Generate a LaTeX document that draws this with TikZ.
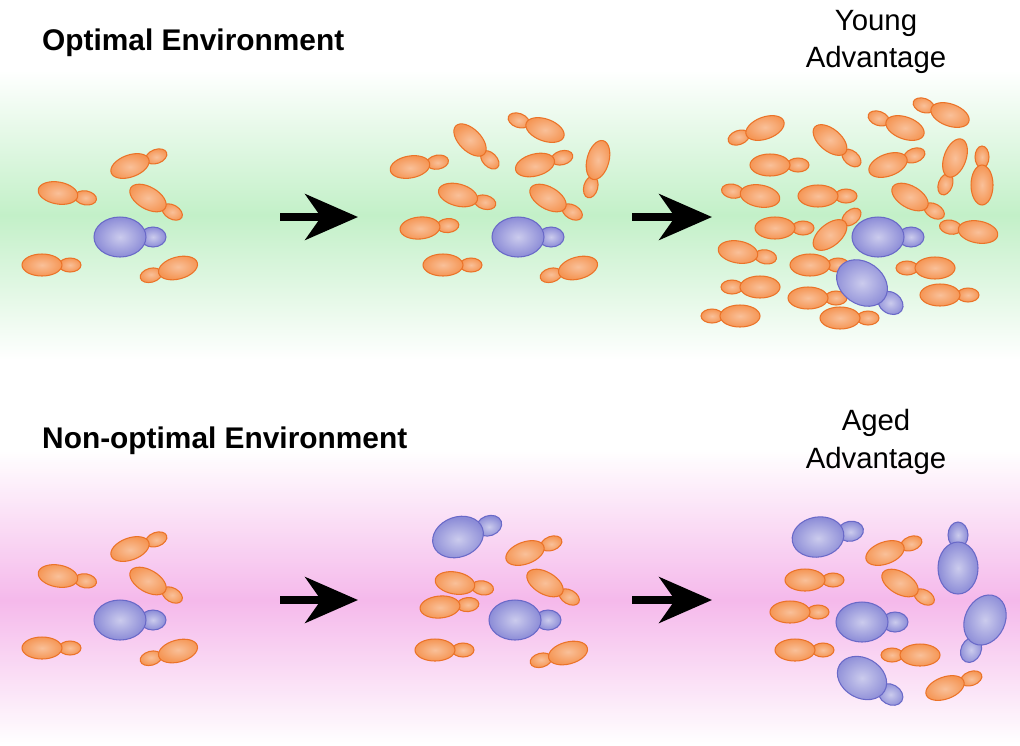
\documentclass[tikz,border=0pt]{standalone}
\usepackage{fontspec}
\setmainfont{Liberation Sans}
\usetikzlibrary{arrows.meta}
\definecolor{orcell}{RGB}{245,150,85}
\definecolor{orline}{RGB}{235,115,40}
\definecolor{blcell}{RGB}{140,140,215}
\definecolor{blline}{RGB}{105,105,200}
\definecolor{bandgreen}{RGB}{195,240,200}
\definecolor{bandpink}{RGB}{245,185,235}
% yeast cells: x, y, angle of the bud
\newcommand{\ocell}[3]{%
  \begin{scope}[shift={(#1,#2)}, rotate=-#3]
    \shade[inner color=orcell!60!white, outer color=orcell, draw=orline, line width=0.6pt] (28,0) ellipse [x radius=11, y radius=7];
    \shade[inner color=orcell!60!white, outer color=orcell, draw=orline, line width=0.6pt] (0,0) ellipse [x radius=20, y radius=11];
  \end{scope}}
\newcommand{\bcell}[4][1]{%
  \begin{scope}[shift={(#2,#3)}, rotate=-#4, scale=#1]
    \shade[inner color=blcell!45!white, outer color=blcell, draw=blline, line width=0.6pt] (33,0) ellipse [x radius=13, y radius=10];
    \shade[inner color=blcell!45!white, outer color=blcell, draw=blline, line width=0.6pt] (0,0) ellipse [x radius=26, y radius=20];
  \end{scope}}
\begin{document}
\begin{tikzpicture}[x=0.02cm, y=-0.02cm,
    bigarrow/.style={line width=4.5pt, -{Stealth[length=30pt, width=26pt, inset=9pt]}},
    titletext/.style={anchor=west, font=\fontsize{17}{20}\selectfont\bfseries},
    sidetext/.style={align=center, font=\fontsize{16.7}{21.5}\selectfont}]
\useasboundingbox (0,0) rectangle (1020,745);
% backgrounds
\shade[top color=white, bottom color=bandgreen] (0,70) rectangle (1020,215);
\shade[top color=bandgreen, bottom color=white] (0,215) rectangle (1020,360);
\shade[top color=white, bottom color=bandpink] (0,450) rectangle (1020,600);
\shade[top color=bandpink, bottom color=white] (0,600) rectangle (1020,745);
% labels
\node[titletext] (opt) at (36,43) {Optimal Environment};
\node[titletext] (nonopt) at (36,441) {Non-optimal Environment};
\node[sidetext] (young) at (876,42) {Young\\Advantage};
\node[sidetext] (aged) at (876,442) {Aged\\Advantage};
% arrows
\draw[bigarrow] (280,217) -- (358,217);
\draw[bigarrow] (632,217) -- (712,217);
\draw[bigarrow] (280,600) -- (358,600);
\draw[bigarrow] (632,600) -- (712,600);
% top: first group
\ocell{130}{166}{-20} \ocell{58}{193}{10} \ocell{148}{198}{30}
\ocell{42}{265}{0} \ocell{178}{268}{165} \bcell{120}{237}{0}
% top: second group
\ocell{470}{140}{45} \ocell{545}{130}{200} \ocell{410}{167}{-10}
\ocell{535}{165}{-15} \ocell{598}{160}{105} \ocell{458}{195}{15}
\ocell{548}{198}{30} \ocell{420}{228}{-5} \ocell{443}{265}{0}
\ocell{578}{268}{165} \bcell{518}{237}{0}
% top: third group
\ocell{765}{128}{160} \ocell{830}{140}{40} \ocell{905}{128}{200}
\ocell{950}{115}{200} \ocell{770}{165}{0} \ocell{888}{165}{-20}
\ocell{955}{158}{110} \ocell{982}{185}{-90} \ocell{760}{196}{190}
\ocell{818}{196}{0} \ocell{910}{197}{30} \ocell{775}{228}{0}
\ocell{830}{235}{-40} \ocell{978}{232}{190} \ocell{738}{252}{10}
\ocell{810}{265}{0} \ocell{935}{268}{180} \ocell{760}{287}{180}
\ocell{808}{298}{0} \ocell{940}{295}{0} \ocell{740}{316}{180}
\ocell{840}{318}{0}
\bcell{878}{237}{0} \bcell[1.05]{862}{283}{35}
% bottom: first group
\ocell{130}{549}{-20} \ocell{58}{576}{10} \ocell{148}{581}{30}
\ocell{42}{648}{0} \ocell{178}{651}{165} \bcell{120}{620}{0}
% bottom: second group
\bcell{458}{537}{-20} \ocell{525}{553}{-20} \ocell{455}{583}{10}
\ocell{545}{583}{30} \ocell{440}{607}{-5} \bcell{515}{620}{0}
\ocell{435}{650}{0} \ocell{568}{653}{165}
% bottom: third group
\bcell{818}{537}{-10} \ocell{885}{553}{-20} \bcell{958}{568}{-90}
\ocell{805}{580}{0} \ocell{900}{583}{30} \ocell{790}{612}{0}
\bcell{862}{622}{0} \bcell{985}{620}{115} \ocell{795}{650}{0}
\ocell{920}{655}{180} \bcell{862}{678}{30} \ocell{945}{688}{-20}
\end{tikzpicture}
\end{document}
